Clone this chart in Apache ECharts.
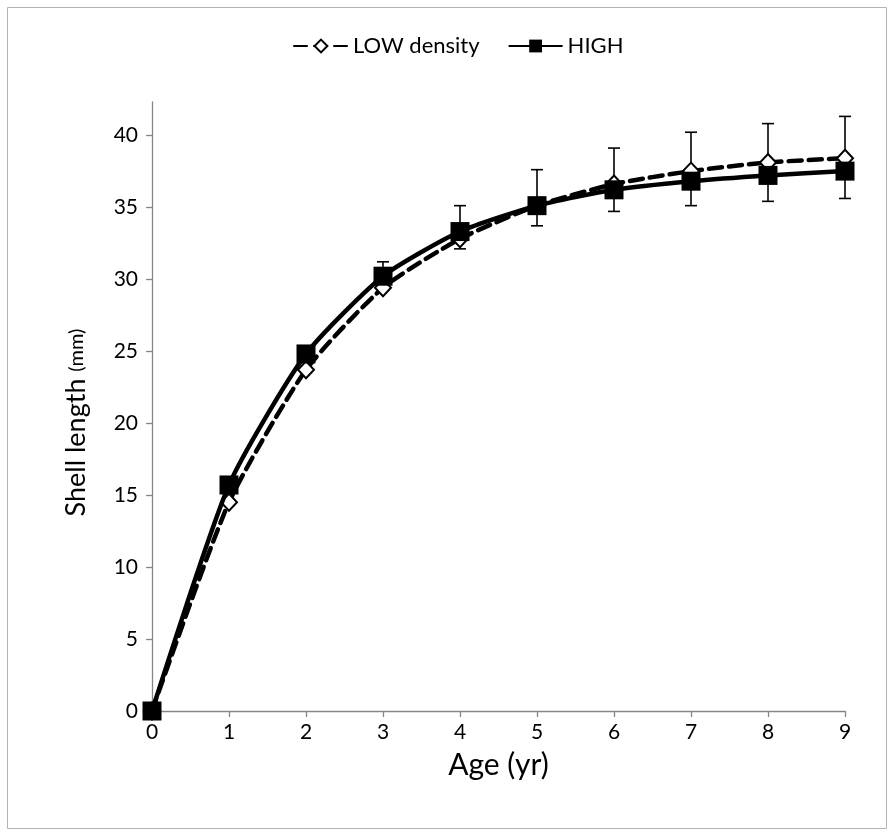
<!DOCTYPE html>
<html>
<head>
<meta charset="utf-8">
<script src="https://cdn.jsdelivr.net/npm/echarts@6/dist/echarts.min.js"></script>
<style>html,body{margin:0;padding:0;background:#fff}#c{width:890px;height:833px}</style>
</head>
<body>
<div id="c"></div>
<script>
const ages = [0, 1, 2, 3, 4, 5, 6, 7, 8, 9];
const lowDensity = [0, 14.5, 23.7, 29.4, 32.8, 35.1, 36.6, 37.5, 38.1, 38.4];
const highDensity = [0, 15.7, 24.8, 30.2, 33.3, 35.1, 36.2, 36.8, 37.2, 37.5];
const lowErrPlus = [0, 1.0, 1.2, 1.8, 2.3, 2.5, 2.5, 2.7, 2.7, 2.9];
const highErrMinus = [0, 0.4, 0.5, 0.5, 1.2, 1.4, 1.5, 1.7, 1.8, 1.9];
const yTicks = [0, 5, 10, 15, 20, 25, 30, 35, 40];
const xTicks = [0, 1, 2, 3, 4, 5, 6, 7, 8, 9];

const FONT = 'Lato, "Open Sans", sans-serif';
const chart = echarts.init(document.getElementById('c'), null, {renderer: 'canvas'});

function errData(vals, errs, sign) {
  return ages.map((a, i) => [a, vals[i], vals[i] + sign * errs[i]]);
}
function errRender(params, api) {
  const x = api.value(0);
  const p0 = api.coord([x, api.value(1)]);
  const p1 = api.coord([x, api.value(2)]);
  if (Math.abs(p0[1] - p1[1]) < 0.5) return null;
  const hw = 6;
  const st = {stroke: '#000', lineWidth: 1.6};
  return {
    type: 'group',
    children: [
      {type: 'line', shape: {x1: p0[0], y1: p0[1], x2: p1[0], y2: p1[1]}, style: st},
      {type: 'line', shape: {x1: p1[0] - hw, y1: p1[1], x2: p1[0] + hw, y2: p1[1]}, style: st}
    ]
  };
}

chart.setOption({
  animation: false,
  backgroundColor: '#fff',
  graphic: [{
    type: 'rect', left: 5, top: 5, z: -10,
    shape: {width: 879, height: 821},
    style: {fill: 'none', stroke: '#b3b3b3', lineWidth: 1}
  }],
  legend: {
    top: 30, left: 288,
    itemWidth: 54, itemHeight: 16, itemGap: 28,
    textStyle: {fontFamily: FONT, fontSize: 22, color: '#000'},
    data: ['LOW density', 'HIGH']
  },
  grid: {left: 152, right: 45, top: 102, bottom: 122},
  xAxis: {
    type: 'value', min: 0, max: 9, interval: 1,
    name: 'Age (yr)', nameLocation: 'middle', nameGap: 39,
    nameTextStyle: {fontFamily: FONT, fontSize: 30, color: '#000'},
    axisLine: {show: true, lineStyle: {color: '#868686', width: 1.3}},
    axisTick: {show: true, length: 6, lineStyle: {color: '#868686', width: 1.3}},
    axisLabel: {fontFamily: FONT, fontSize: 21, color: '#000', margin: 11, customValues: xTicks},
    splitLine: {show: false}
  },
  yAxis: {
    type: 'value', min: 0, max: 42.3, interval: 5,
    name: '{a|Shell length }{b|(mm)}', nameLocation: 'middle', nameGap: 62,
    nameTextStyle: {
      fontFamily: FONT, color: '#000', padding: [0, 32, 0, 0],
      rich: {a: {fontFamily: FONT, fontSize: 27, color: '#000'}, b: {fontFamily: FONT, fontSize: 20, color: '#000'}}
    },
    axisLine: {show: true, lineStyle: {color: '#868686', width: 1.3}},
    axisTick: {show: true, length: 6, customValues: yTicks, lineStyle: {color: '#868686', width: 1.3}},
    axisLabel: {fontFamily: FONT, fontSize: 21, color: '#000', margin: 14, customValues: yTicks},
    splitLine: {show: false}
  },
  series: [
    {
      type: 'custom', name: 'lowErr', renderItem: errRender, z: 1,
      data: errData(lowDensity, lowErrPlus, 1), silent: true, encode: {x: 0, y: [1, 2]}
    },
    {
      type: 'custom', name: 'highErr', renderItem: errRender, z: 1,
      data: errData(highDensity, highErrMinus, -1), silent: true, encode: {x: 0, y: [1, 2]}
    },
    {
      name: 'LOW density', type: 'line', smooth: 0.2, z: 3,
      data: ages.map((a, i) => [a, lowDensity[i]]),
      lineStyle: {color: '#000', width: 4.5, type: [13, 7], cap: 'round'},
      symbol: 'diamond', symbolSize: [16, 17],
      itemStyle: {color: '#fff', borderColor: '#000', borderWidth: 2}
    },
    {
      name: 'HIGH', type: 'line', smooth: 0.2, z: 4,
      data: ages.map((a, i) => [a, highDensity[i]]),
      lineStyle: {color: '#000', width: 4.5},
      symbol: 'rect', symbolSize: 19,
      itemStyle: {color: '#000', borderColor: '#000', borderWidth: 0}
    }
  ]
});
</script>
</body>
</html>
